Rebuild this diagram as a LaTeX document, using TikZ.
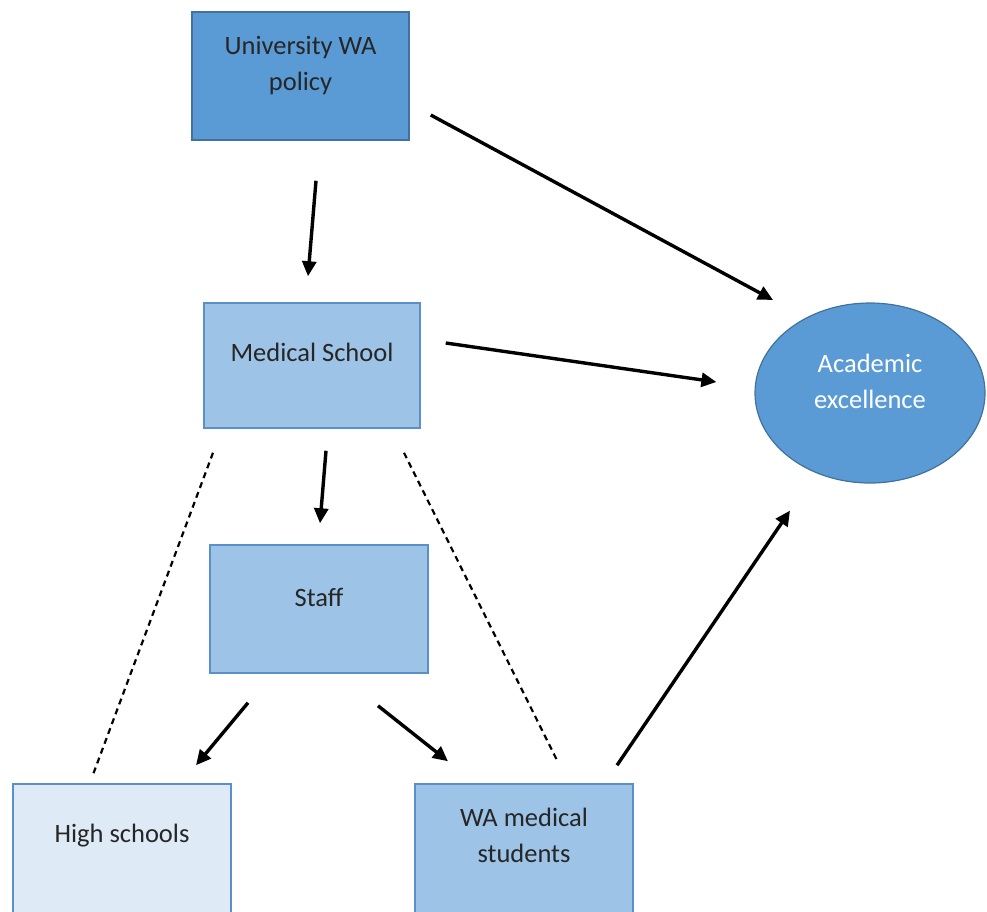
\documentclass[tikz,border=0pt]{standalone}
\usepackage{fontspec}
\setmainfont{Carlito}
\usetikzlibrary{arrows.meta,shapes.geometric}
\definecolor{darkfill}{HTML}{5B9BD5}
\definecolor{midfill}{HTML}{9DC3E6}
\definecolor{lightfill}{HTML}{DEEBF7}
\definecolor{darkline}{HTML}{41719C}
\definecolor{midline}{HTML}{5B8FC8}
\definecolor{ink}{HTML}{262626}
\tikzset{
  box/.style={rectangle, draw=midline, line width=1.5pt, minimum width=217pt, minimum height=128pt, inner sep=0pt},
  txt/.style={align=center, text=ink, font=\fontsize{26.5}{36}\selectfont},
  arr/.style={line width=3.4pt, -{Triangle[length=15pt,width=14pt]}},
  dashline/.style={line width=2.2pt, dash pattern=on 6pt off 4.5pt},
}
\begin{document}
\begin{tikzpicture}[x=1pt, y=-1pt]
  \useasboundingbox (0,0) rectangle (987,911);

  % boxes
  \node[box, fill=darkfill, draw=darkline] (policy) at (300.5,76) {};
  \node[txt] (policytxt) at (300.5,66) {University WA\\policy};
  \node[box, fill=midfill, minimum width=216pt, minimum height=125pt] (med) at (312,365.5) {};
  \node[txt] (medtxt) at (312,352) {Medical School};
  \node[box, fill=midfill, minimum width=218pt] (staff) at (319,609) {};
  \node[txt] (stafftxt) at (319,597) {Staff};
  \node[box, fill=lightfill, minimum width=218pt, minimum height=132pt] (high) at (122,850) {};
  \node[txt] (hightxt) at (122,836) {High schools};
  \node[box, fill=midfill, minimum width=218pt, minimum height=132pt] (wa) at (524,850) {};
  \node[txt] (watxt) at (524,835.5) {WA medical\\students};

  % outcome ellipse
  \node[ellipse, draw=darkline, line width=1.2pt, fill=darkfill, minimum width=230pt, minimum height=180pt, inner sep=0pt] (acad) at (870,393) {};
  \node[txt, text=white] (acadtxt) at (870,381) {Academic\\excellence};

  % arrows of influence
  \draw[arr] ([shift={(15.5,40)}]policy.south) -- ([shift={(-4,-26)}]med.north);
  \draw[arr] ([shift={(21,39)}]policy.east) -- ([shift={(-97,-93)}]acad.center);
  \draw[arr] ([shift={(25,-22.5)}]med.east) -- ([shift={(-38,-11)}]acad.west);
  \draw[arr] ([shift={(14,22)}]med.south) -- ([shift={(1,-21)}]staff.north);
  \draw[arr] ([shift={(-71,29)}]staff.south) -- ([shift={(74,-18)}]high.north);
  \draw[arr] ([shift={(59,32)}]staff.south) -- ([shift={(-76,-22)}]wa.north);
  \draw[arr] ([shift={(93,-18)}]wa.north) -- ([shift={(-80,27)}]acad.south);

  % dashed scope lines
  \draw[dashline] ([shift={(-99,24)}]med.south) -- ([shift={(-30,-6)}]high.north);
  \draw[dashline] ([shift={(92,24)}]med.south) -- ([shift={(34,-21)}]wa.north);
\end{tikzpicture}
\end{document}
